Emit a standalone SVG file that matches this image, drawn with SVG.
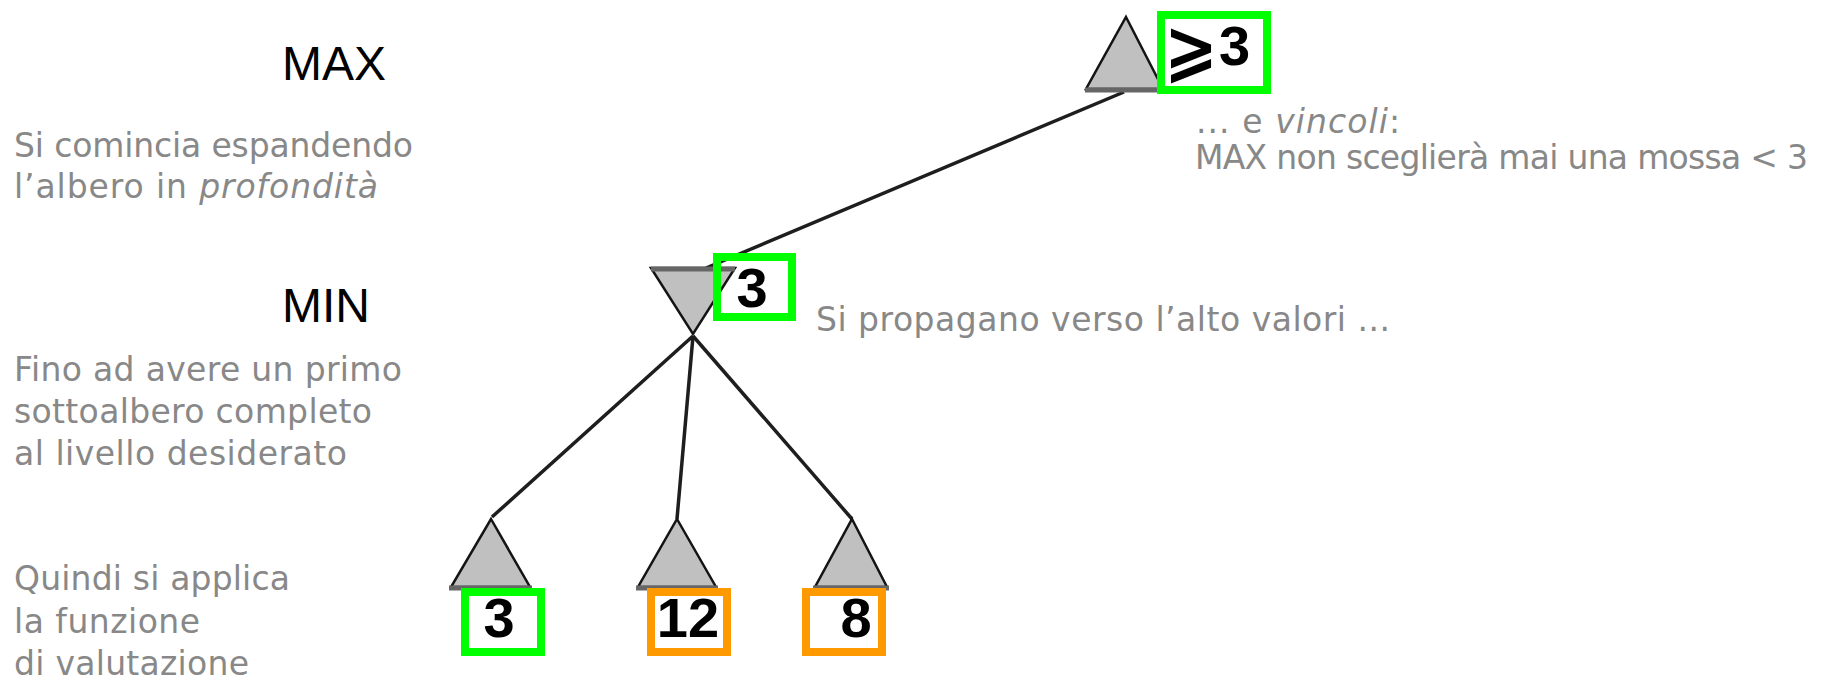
<svg xmlns="http://www.w3.org/2000/svg" width="1821" height="682" viewBox="0 0 1821 682">
<style>
.tri{fill:#c0c0c0;stroke:#141414;stroke-width:2.5;stroke-linejoin:miter}
.base{stroke:#666;stroke-width:5;fill:none}
.edge{stroke:#1e1e1e;stroke-width:3.5;fill:none}
.gbox{fill:none;stroke:#00ff00;stroke-width:8}
.obox{fill:none;stroke:#ff9900;stroke-width:8}
.val{font-family:"Liberation Sans",Arial,sans-serif;font-weight:bold;font-size:56px;fill:#000}
.sym{font-family:"DejaVu Sans",sans-serif;font-weight:bold;font-size:64px;fill:#000}
.lvl{font-family:"Liberation Sans",Arial,sans-serif;font-size:48px;fill:#000}
.note{font-family:"DejaVu Sans","Liberation Sans",sans-serif;font-size:33px;fill:#888}
.it{font-style:italic}
</style>
<rect width="1821" height="682" fill="#fff"/>
<g id="connectors">
<line class="edge" x1="1124" y1="92" x2="706" y2="268"/>
<line class="edge" x1="693" y1="336" x2="492" y2="517"/>
<line class="edge" x1="693" y1="336" x2="677" y2="519"/>
<line class="edge" x1="693" y1="336" x2="852" y2="519"/>
</g>
<g id="node-max">
<polygon class="tri" points="1126,17 1163,89 1086,89"/>
<line class="base" x1="1085" y1="90" x2="1164" y2="90"/>
<rect class="gbox" x="1161" y="15" width="106" height="75" stroke-width="7.5"/>
<text class="sym" transform="translate(1164,73) scale(1,1.1)">⩾</text>
<text class="val" x="1219" y="65">3</text>
</g>
<g id="node-min">
<polygon class="tri" points="651,268 735,268 693,334"/>
<line class="base" x1="651" y1="269" x2="735" y2="269" stroke="#555" stroke-width="3"/>
<rect class="gbox" x="717" y="257" width="75" height="60"/>
<text class="val" x="752" y="307" text-anchor="middle">3</text>
</g>
<g id="node-leaf1">
<polygon class="tri" points="491,519 530,587 451,587"/>
<line class="base" x1="449" y1="588" x2="532" y2="588"/>
<rect class="gbox" x="465" y="592" width="76" height="60"/>
<text class="val" x="499" y="637" text-anchor="middle">3</text>
</g>
<g id="node-leaf2">
<polygon class="tri" points="677,519 716,587 638,587"/>
<line class="base" x1="636" y1="588" x2="718" y2="588"/>
<rect class="obox" x="651" y="592" width="76" height="60"/>
<text class="val" x="688" y="637" text-anchor="middle">12</text>
</g>
<g id="node-leaf3">
<polygon class="tri" points="852,519 887,587 815,587"/>
<line class="base" x1="813" y1="588" x2="889" y2="588"/>
<rect class="obox" x="806" y="592" width="76" height="60"/>
<text class="val" x="856" y="637" text-anchor="middle">8</text>
</g>
<g id="labels">
<text class="lvl" x="282" y="80">MAX</text>
<text class="lvl" x="282" y="322">MIN</text>
<text class="note" x="14" y="157" textLength="399">Si comincia espandendo</text>
<text class="note" x="14" y="198" textLength="364">l’albero in <tspan class="it">profondità</tspan></text>
<text class="note" x="14" y="381" textLength="388">Fino ad avere un primo</text>
<text class="note" x="14" y="423" textLength="358">sottoalbero completo</text>
<text class="note" x="14" y="465" textLength="333">al livello desiderato</text>
<text class="note" x="14" y="590" textLength="276">Quindi si applica</text>
<text class="note" x="14" y="633" textLength="186">la funzione</text>
<text class="note" x="14" y="675" textLength="235">di valutazione</text>
<text class="note" x="816" y="331" textLength="574">Si propagano verso l’alto valori ...</text>
<text class="note" x="1196" y="133" textLength="204">... e <tspan class="it">vincoli</tspan>:</text>
<text class="note" x="1195" y="169" textLength="613">MAX non sceglierà mai una mossa &lt; 3</text>
</g>
</svg>
